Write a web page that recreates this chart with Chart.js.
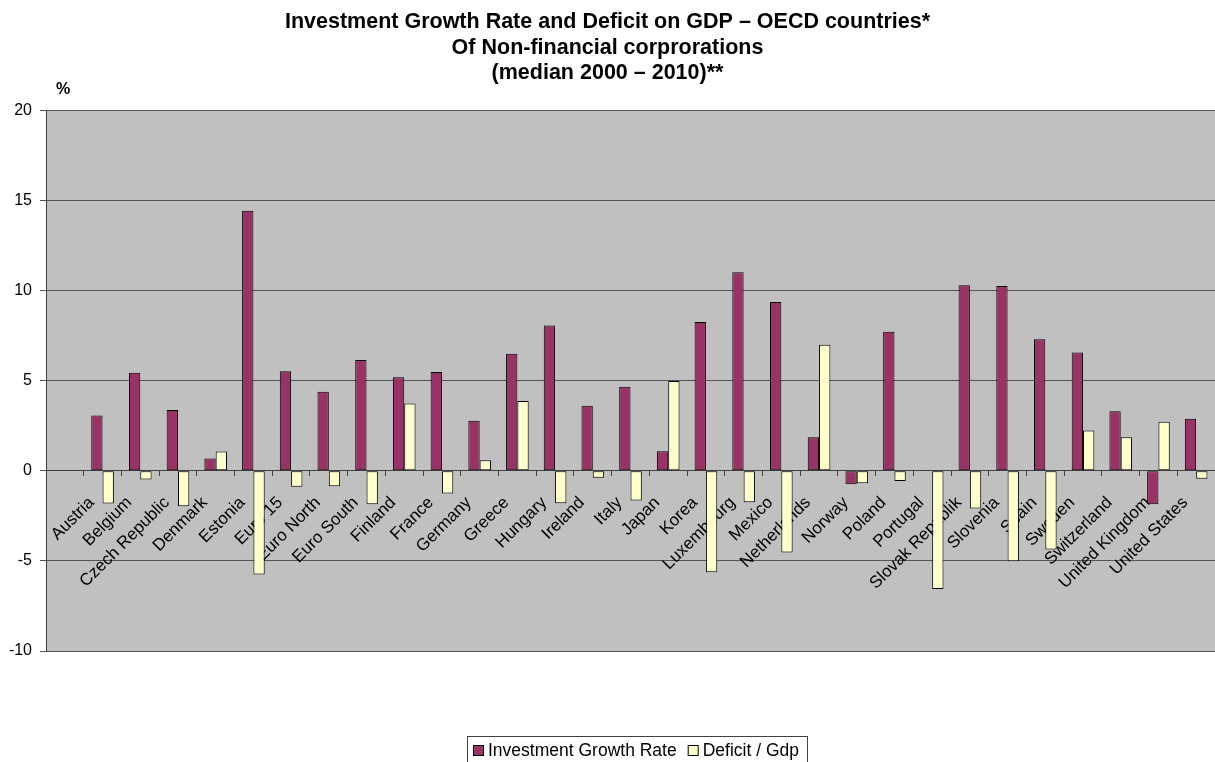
<!DOCTYPE html>
<html>
<head>
<meta charset="utf-8">
<title>Investment Growth Rate and Deficit on GDP</title>
<script src="https://cdn.jsdelivr.net/npm/chart.js@4"></script>
<style>
  html, body { margin: 0; padding: 0; background: #fff; }
</style>
</head>
<body>
<canvas id="graph" width="1215" height="762"></canvas>
<script>
// first slot is left empty on the original sheet
const countries = [
  "", "Austria", "Belgium", "Czech Republic", "Denmark", "Estonia", "Euro 15",
  "Euro North", "Euro South", "Finland", "France", "Germany", "Greece",
  "Hungary", "Ireland", "Italy", "Japan", "Korea", "Luxembourg", "Mexico",
  "Netherlands", "Norway", "Poland", "Portugal", "Slovak Republik", "Slovenia",
  "Spain", "Sweden", "Switzerland", "United Kingdom", "United States"
];

const investmentGrowth = [
  null, 3.07, 5.44, 3.37, 0.69, 14.44, 5.52,
  4.39, 6.15, 5.19, 5.48, 2.78, 6.50,
  8.06, 3.61, 4.67, 1.09, 8.26, 11.02, 9.37,
  1.87, -0.74, 7.72, null, 10.30, 10.26,
  7.30, 6.56, 3.31, -1.85, 2.89
];

const deficitGdp = [
  null, -1.81, -0.48, -1.96, 1.07, -5.76, -0.89,
  -0.85, -1.85, 3.74, -1.26, 0.59, 3.87,
  -1.80, -0.39, -1.65, 4.98, -5.63, -1.74, -4.54,
  7.00, -0.69, -0.56, -6.56, -2.09, -5.02,
  -4.37, 2.24, 1.87, 2.72, -0.44
];

const yMin = -10;
const yMax = 20;
const yStep = 5;

const titleLines = [
  "Investment Growth Rate and Deficit on GDP \u2013 OECD countries*",
  "Of Non-financial corprorations",
  "(median 2000 \u2013 2010)**"
];

const FONT = "'Liberation Sans', Arial, sans-serif";

// grey plot area behind the bars
const plotBackground = {
  id: "plotBackground",
  beforeDraw(chart) {
    const { ctx, chartArea: a } = chart;
    ctx.save();
    ctx.fillStyle = "#c0c0c0";
    ctx.fillRect(a.left, a.top, a.right - a.left, a.bottom - a.top);
    ctx.restore();
  },
};

// "%" unit above the value axis
const unitLabel = {
  id: "unitLabel",
  afterDraw(chart) {
    const { ctx, chartArea: a } = chart;
    ctx.save();
    ctx.font = "bold 16px " + FONT;
    ctx.fillStyle = "#000";
    ctx.textAlign = "center";
    ctx.textBaseline = "middle";
    ctx.fillText("%", a.left + 17, a.top - 21);
    ctx.restore();
  },
};

// boxed legend at the bottom
const boxLegend = {
  id: "boxLegend",
  afterDraw(chart) {
    const ctx = chart.ctx;
    const sw = 11, gap = 4, itemGap = 11, padL = 6, padR = 8;
    const top = 736, h = 27, mid = 750;
    ctx.save();
    ctx.font = "17.5px " + FONT;
    const items = chart.data.datasets.map((ds) => ({
      ds: ds,
      w: ctx.measureText(ds.label).width,
    }));
    let total = padL + padR + itemGap * (items.length - 1);
    items.forEach((it) => (total += sw + gap + it.w));
    let x = 467;
    ctx.fillStyle = "#fff";
    ctx.fillRect(x, top, total, h);
    ctx.strokeStyle = "#404040";
    ctx.lineWidth = 1;
    ctx.strokeRect(x + 0.5, top + 0.5, total, h);
    x += padL;
    items.forEach((it) => {
      ctx.fillStyle = it.ds.backgroundColor;
      ctx.fillRect(x, mid - 5, sw, sw);
      ctx.strokeStyle = "#000";
      ctx.strokeRect(x + 0.5, mid - 4.5, sw - 1, sw - 1);
      ctx.fillStyle = "#000";
      ctx.textBaseline = "middle";
      ctx.fillText(it.ds.label, x + sw + gap, mid + 1);
      x += sw + gap + it.w + itemGap;
    });
    ctx.restore();
  },
};

Chart.defaults.font.family = FONT;
Chart.defaults.color = "#000";

new Chart(document.getElementById("graph").getContext("2d"), {
  type: "bar",
  data: {
    labels: countries,
    datasets: [
      {
        label: "Investment Growth Rate",
        data: investmentGrowth,
        backgroundColor: "#993366",
        borderColor: "#000",
        borderWidth: 1,
        borderSkipped: false,
        categoryPercentage: 0.6,
        barPercentage: 1.0,
      },
      {
        label: "Deficit / Gdp",
        data: deficitGdp,
        backgroundColor: "#ffffcc",
        borderColor: "#000",
        borderWidth: 1,
        borderSkipped: false,
        categoryPercentage: 0.6,
        barPercentage: 1.0,
      },
    ],
  },
  options: {
    responsive: false,
    devicePixelRatio: 1,
    animation: false,
    layout: {
      autoPadding: false,
      padding: { left: 0, right: 0, top: 0, bottom: 111 },
    },
    plugins: {
      legend: { display: false },
      tooltip: { enabled: false },
      title: {
        display: true,
        text: titleLines,
        color: "#000",
        font: { size: 21.5, weight: "bold", lineHeight: 1.17 },
        padding: { top: 10, bottom: 25 },
      },
    },
    scales: {
      x: {
        type: "category",
        position: { y: 0 },
        z: 1,
        offset: true,
        // rotated labels may hang past the plot edges
        afterFit(scale) {
          scale.paddingLeft = 0;
          scale.paddingRight = 0;
        },
        grid: {
          display: true,
          offset: true,
          drawOnChartArea: false,
          drawTicks: true,
          tickLength: 5,
          color: "#404040",
        },
        border: { display: true, color: "#404040" },
        ticks: {
          autoSkip: false,
          minRotation: 45,
          maxRotation: 45,
          padding: 17,
          labelOffset: -11,
          color: "#000",
          font: { size: 17 },
        },
      },
      y: {
        min: yMin,
        max: yMax,
        afterFit(scale) {
          scale.width = 46;
        },
        ticks: {
          stepSize: yStep,
          padding: 8,
          color: "#000",
          font: { size: 16 },
        },
        grid: { color: "#555555", tickLength: 6, drawTicks: true },
        border: { color: "#404040" },
      },
    },
  },
  plugins: [plotBackground, unitLabel, boxLegend],
});
</script>
</body>
</html>
